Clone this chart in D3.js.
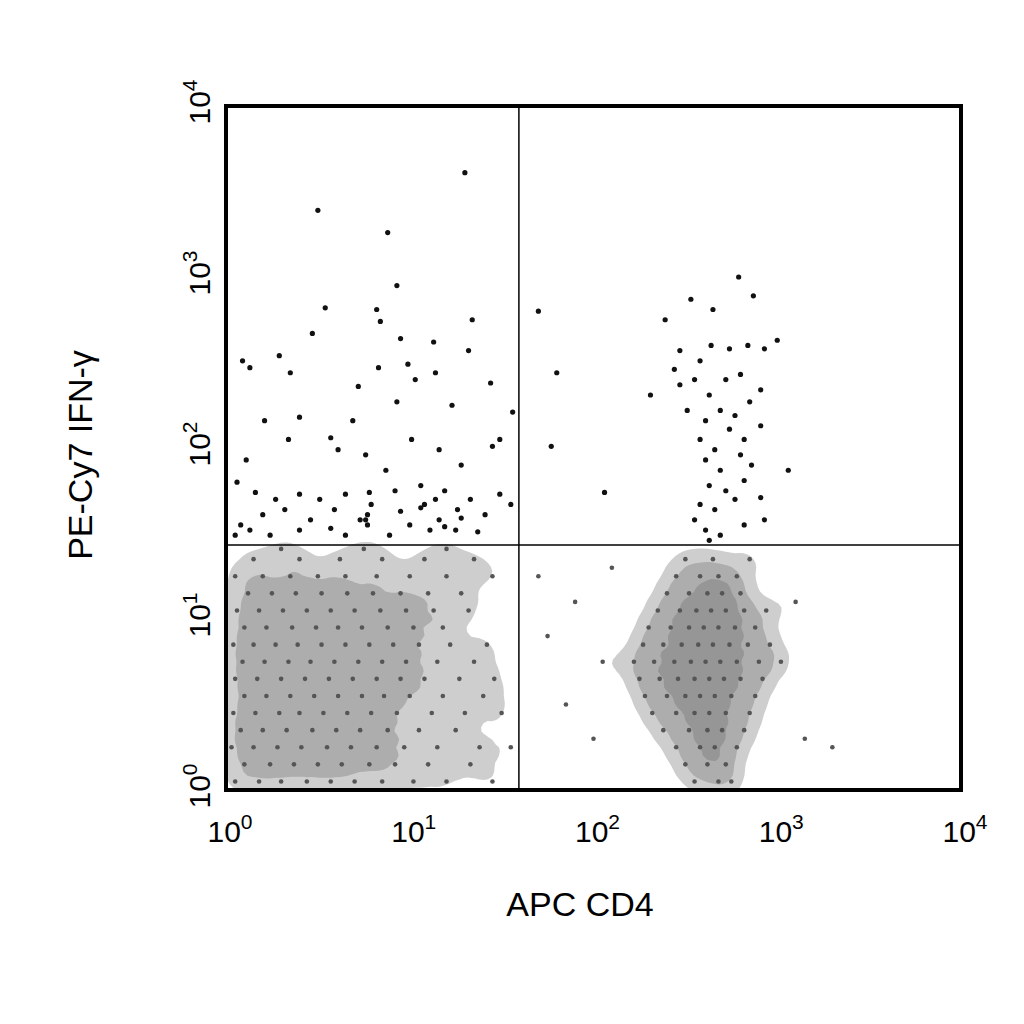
<!DOCTYPE html>
<html><head><meta charset="utf-8">
<script src="https://cdn.jsdelivr.net/npm/d3@7"></script>
<style>body{margin:0;background:#fff}</style></head>
<body><svg id="c" width="1024" height="1024"></svg>
<script>
// Values are log10 of fluorescence intensity
const tickExps = [0,1,2,3,4];
const xGate = 1.594, yGate = 1.433;
// IFN-γ+ events (black), pairs [log10 CD4, log10 IFN-γ]
const posLeft = [[0.50,3.39],[0.88,3.26],[1.30,3.61],[0.93,2.95],[0.54,2.82],[0.82,2.81],[0.09,2.51],[0.13,2.47],[0.29,2.54],[0.35,2.44],[0.47,2.67],[0.84,2.74],[0.95,2.64],[1.13,2.62],[1.34,2.75],[1.32,2.57],[0.99,2.49],[0.83,2.47],[0.72,2.36],[1.03,2.40],[1.14,2.44],[0.21,2.16],[0.40,2.18],[0.57,2.06],[0.69,2.16],[0.93,2.27],[1.23,2.25],[1.44,2.38],[1.56,2.21],[0.11,1.93],[0.34,2.05],[0.61,1.99],[0.76,1.96],[0.87,1.87],[1.01,2.05],[1.16,1.99],[1.28,1.90],[1.45,2.01],[1.49,2.05],[0.06,1.80],[0.16,1.74],[0.27,1.70],[0.40,1.73],[0.51,1.70],[0.65,1.73],[0.78,1.74],[0.92,1.75],[1.06,1.78],[1.19,1.75],[1.33,1.70],[1.49,1.73],[0.08,1.55],[0.20,1.61],[0.32,1.64],[0.46,1.58],[0.59,1.64],[0.73,1.58],[0.79,1.67],[0.95,1.63],[1.08,1.67],[1.16,1.58],[1.26,1.64],[1.41,1.61],[1.55,1.67],[0.13,1.52],[0.40,1.52],[0.57,1.53],[0.77,1.55],[1.00,1.55],[1.25,1.52],[0.05,1.49],[0.24,1.49],[0.65,1.49],[0.89,1.49],[1.11,1.52],[1.37,1.51],[0.76,1.58],[0.77,1.61],[1.06,1.65],[1.14,1.70],[1.28,1.59],[1.19,1.54]];
const posRight = [[1.70,2.80],[1.80,2.44],[1.77,2.01],[2.06,1.74],[2.39,2.75],[2.53,2.87],[2.65,2.81],[2.79,3.00],[2.87,2.89],[3.00,2.63],[2.31,2.31],[2.44,2.46],[2.47,2.57],[2.58,2.51],[2.64,2.60],[2.74,2.58],[2.84,2.60],[2.93,2.58],[2.47,2.37],[2.55,2.40],[2.63,2.31],[2.72,2.40],[2.80,2.43],[2.91,2.34],[2.51,2.22],[2.61,2.16],[2.69,2.22],[2.77,2.19],[2.85,2.27],[2.58,2.05],[2.66,1.99],[2.74,2.11],[2.82,2.05],[2.91,2.13],[2.61,1.93],[2.69,1.87],[2.80,1.96],[2.86,1.90],[3.06,1.87],[2.63,1.78],[2.72,1.75],[2.82,1.81],[2.91,1.71],[2.58,1.67],[2.66,1.64],[2.77,1.70],[2.93,1.58],[2.61,1.52],[2.69,1.49],[2.82,1.55],[2.55,1.58],[2.63,1.46]];
// IFN-γ− events (grey), rows: [log10 IFN-γ, [log10 CD4 ...]]
const negLeftRows = [[0.05,[0.05,0.18,0.30,0.44,0.57,0.70,0.85,1.02,1.20,1.45]],[0.15,[0.10,0.24,0.37,0.50,0.63,0.78,0.92,1.10,1.33]],[0.25,[0.03,0.15,0.28,0.41,0.55,0.68,0.82,0.97,1.15,1.38,1.55]],[0.35,[0.08,0.20,0.33,0.47,0.60,0.73,0.88,1.05,1.25]],[0.45,[0.04,0.16,0.29,0.40,0.53,0.66,0.79,0.93,1.12,1.30,1.50]],[0.55,[0.10,0.22,0.35,0.48,0.61,0.74,0.86,1.00,1.18,1.40]],[0.65,[0.05,0.17,0.30,0.43,0.56,0.69,0.82,0.95,1.08,1.27,1.46]],[0.75,[0.09,0.21,0.34,0.46,0.59,0.72,0.85,0.98,1.15,1.35]],[0.85,[0.04,0.15,0.27,0.39,0.52,0.65,0.78,0.91,1.05,1.22,1.42]],[0.95,[0.10,0.22,0.36,0.49,0.61,0.74,0.88,1.02,1.18]],[1.05,[0.06,0.18,0.31,0.44,0.57,0.70,0.84,0.98,1.13,1.32]],[1.15,[0.12,0.25,0.38,0.52,0.66,0.80,0.95,1.10,1.28]],[1.25,[0.05,0.20,0.35,0.50,0.65,0.82,1.00,1.20,1.45]],[1.35,[0.15,0.40,0.62,0.85,1.08,1.35]],[1.41,[0.30,0.75,1.20]]];
const negRightRows = [[0.05,[2.55,2.68,2.75]],[0.15,[2.50,2.62,2.72]],[0.25,[2.45,2.58,2.66,2.78]],[0.35,[2.38,2.52,2.62,2.70,2.82]],[0.45,[2.32,2.45,2.55,2.63,2.72,2.85]],[0.55,[2.28,2.40,2.50,2.58,2.66,2.75,2.88]],[0.65,[2.25,2.36,2.46,2.55,2.63,2.71,2.80,2.92]],[0.75,[2.22,2.33,2.44,2.53,2.61,2.69,2.78,2.90,3.02]],[0.85,[2.27,2.38,2.48,2.57,2.65,2.74,2.84,2.96]],[0.95,[2.30,2.42,2.52,2.60,2.68,2.77,2.88]],[1.05,[2.35,2.47,2.56,2.64,2.72,2.82,2.94]],[1.15,[2.40,2.52,2.62,2.70,2.80]],[1.25,[2.45,2.58,2.68,2.78]],[1.35,[2.50,2.65,2.85]]];
const negSparse = [[1.75,0.9],[1.9,1.1],[2.0,0.3],[2.1,1.3],[1.85,0.5],[3.15,0.3],[3.3,0.25],[3.1,1.1],[2.05,0.75],[1.7,1.25]];

const L=226,R=961,T=106,B=790;
const svg=d3.select("#c");
const x=d3.scaleLinear().domain([0,4]).range([L,R]);
const y=d3.scaleLinear().domain([0,4]).range([B,T]);
const neg=[];
negLeftRows.concat(negRightRows).forEach(([ly,xs])=>xs.forEach(lx=>neg.push([lx,ly])));
negSparse.forEach(p=>neg.push(p));

svg.append("clipPath").attr("id","cl").append("rect").attr("x",L).attr("y",T).attr("width",R-L).attr("height",B-T);
const g=svg.append("g").attr("clip-path","url(#cl)");
const dens=d3.contourDensity().x(d=>x(d[0])).y(d=>y(d[1])).size([1024,1024]).bandwidth(12).thresholds(4)(neg);
g.selectAll("path.d").data(dens).join("path").attr("d",d3.geoPath()).attr("fill","#666").attr("fill-opacity",0.32);
g.selectAll("circle.n").data(neg).join("circle").attr("cx",d=>x(d[0])).attr("cy",d=>y(d[1])).attr("r",2.3).attr("fill","#555");
g.selectAll("circle.p").data(posLeft.concat(posRight)).join("circle").attr("cx",d=>x(d[0])).attr("cy",d=>y(d[1])).attr("r",2.6).attr("fill","#111");

svg.append("line").attr("x1",x(xGate)).attr("x2",x(xGate)).attr("y1",T).attr("y2",B).attr("stroke","#000").attr("stroke-width",1.5);
svg.append("line").attr("x1",L).attr("x2",R).attr("y1",y(yGate)).attr("y2",y(yGate)).attr("stroke","#000").attr("stroke-width",1.5);
svg.append("rect").attr("x",L).attr("y",T).attr("width",R-L).attr("height",B-T).attr("fill","none").attr("stroke","#000").attr("stroke-width",4);

const ff="Liberation Sans, Arial, sans-serif";
tickExps.forEach(e=>{
  const t=svg.append("text").attr("x",x(e)+4).attr("y",842).attr("text-anchor","middle").attr("font-family",ff).attr("font-size",30);
  t.append("tspan").text("10");t.append("tspan").attr("dy",-13).attr("font-size",21).text(e);
  const t2=svg.append("text").attr("transform",`translate(210,${y(e)-4}) rotate(-90)`).attr("text-anchor","middle").attr("font-family",ff).attr("font-size",30);
  t2.append("tspan").text("10");t2.append("tspan").attr("dy",-13).attr("font-size",21).text(e);
});
svg.append("text").attr("x",580).attr("y",916).attr("text-anchor","middle").attr("font-family",ff).attr("font-size",34).text("APC CD4");
svg.append("text").attr("transform",`translate(92,455) rotate(-90)`).attr("text-anchor","middle").attr("font-family",ff).attr("font-size",34).text("PE-Cy7 IFN-γ");
</script></body></html>
